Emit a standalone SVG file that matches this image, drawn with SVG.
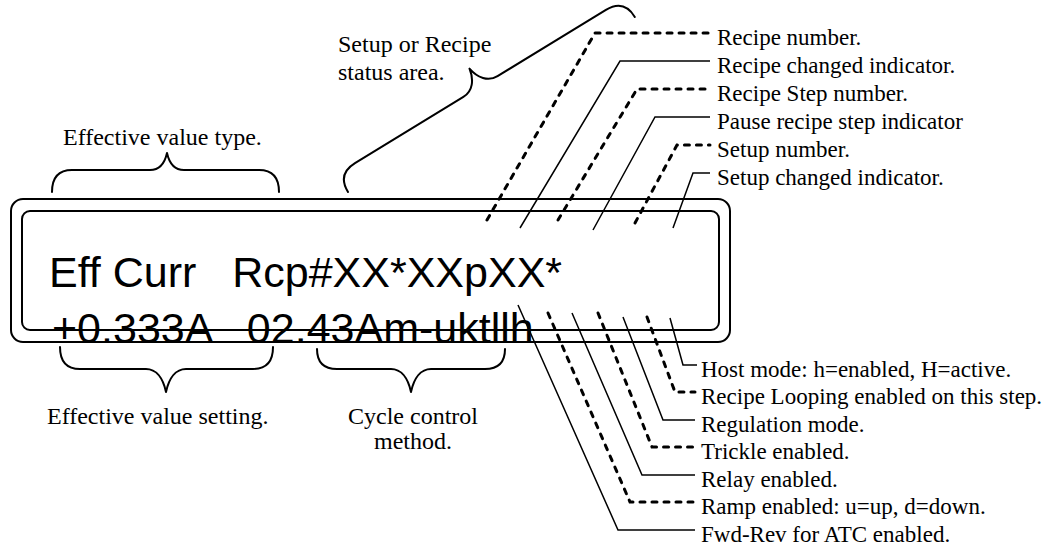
<svg xmlns="http://www.w3.org/2000/svg" width="1059" height="552" viewBox="0 0 1059 552">
<style>
.lbl{font-family:"Liberation Serif","Times New Roman",serif;font-size:24px;fill:#000}
.rl{font-family:"Liberation Serif","Times New Roman",serif;font-size:23px;fill:#000}
.lcd{font-family:"Liberation Sans",Arial,sans-serif;font-size:43px;fill:#000}
.box{fill:none;stroke:#000;stroke-width:2}
.brace{fill:none;stroke:#000;stroke-width:2;stroke-linecap:round;stroke-linejoin:round}
.sol{fill:none;stroke:#000;stroke-width:1.5}
.dsh{fill:none;stroke:#000;stroke-width:3;stroke-dasharray:5 7;stroke-linecap:round}
</style>
<rect width="1059" height="552" fill="#fff"/>
<g id="display">
<rect class="box" x="11" y="199" width="719" height="143" rx="12"/>
<rect class="box" x="22" y="211" width="697" height="119" rx="8"/>
<text class="lcd" x="49" y="287" xml:space="preserve">Eff Curr   Rcp#XX*XXpXX*</text>
<text class="lcd" x="52" y="343" xml:space="preserve">+0.333A   02.43Am-uktllh</text>
</g>
<g id="label-eff-type"><text class="lbl" x="63" y="145">Effective value type.</text></g>
<g id="label-status"><text class="lbl" x="338" y="52">Setup or Recipe</text><text class="lbl" x="338" y="80">status area.</text></g>
<g id="label-eff-setting"><text class="lbl" x="47" y="424">Effective value setting.</text></g>
<g id="label-cycle"><text class="lbl" x="413" y="424" text-anchor="middle">Cycle control</text><text class="lbl" x="413" y="449" text-anchor="middle">method.</text></g>
<g id="labels-top">
<text class="rl" x="717" y="45">Recipe number.</text>
<text class="rl" x="717" y="73">Recipe changed indicator.</text>
<text class="rl" x="717" y="101">Recipe Step number.</text>
<text class="rl" x="717" y="129">Pause recipe step indicator</text>
<text class="rl" x="717" y="157">Setup number.</text>
<text class="rl" x="717" y="185">Setup changed indicator.</text>
</g>
<g id="labels-bottom">
<text class="rl" x="701" y="377">Host mode: h=enabled, H=active.</text>
<text class="rl" x="701" y="404">Recipe Looping enabled on this step.</text>
<text class="rl" x="701" y="432">Regulation mode.</text>
<text class="rl" x="701" y="459">Trickle enabled.</text>
<text class="rl" x="701" y="487">Relay enabled.</text>
<text class="rl" x="701" y="514">Ramp enabled: u=up, d=down.</text>
<text class="rl" x="701" y="542">Fwd-Rev for ATC enabled.</text>
</g>
<g id="connectors">
<path class="brace" d="M52,192 C52,178 58,170 72,170 L150,170 C160,170 165,162 167,153 C169,162 174,170 184,170 L259,170 C273,170 279,178 279,192"/>
<path class="brace" transform="translate(348,192) rotate(-31.4)" d="M0,0 C0,-14 7,-21 21,-21 L148,-21 C159,-21 166,-30 168,-42 C170,-30 177,-21 188,-21 L315,-21 C329,-21 336,-14 336,0"/>
<path class="brace" d="M60,347 C60,361 66,369 80,369 L146,369 C156,369 163,378 166,392 C169,378 176,369 186,369 L253,369 C267,369 273,361 273,347"/>
<path class="brace" d="M317,349 C317,362 323,369 337,369 L391,369 C401,369 408,378 411,392 C414,378 421,369 431,369 L485,369 C499,369 505,362 505,349"/>
<polyline class="dsh" points="487,220 595,33 710,33"/>
<polyline class="sol" points="520,228 620,61 710,61"/>
<polyline class="dsh" points="558,220 637,89 710,89"/>
<polyline class="sol" points="593,230 655,117 710,117"/>
<polyline class="dsh" points="635,223 677,145 710,145"/>
<polyline class="sol" points="673,228 693,173 710,173"/>
<polyline class="sol" points="518,305 618,530 695,530"/>
<polyline class="dsh" points="548,313 630,502 695,502"/>
<polyline class="sol" points="572,313 642,475 695,475"/>
<polyline class="dsh" points="598,313 652,447 695,447"/>
<polyline class="sol" points="623,317 663,420 695,420"/>
<polyline class="dsh" points="647,317 675,392 695,392"/>
<polyline class="sol" points="670,318 683,365 697,365"/>
</g>
</svg>
